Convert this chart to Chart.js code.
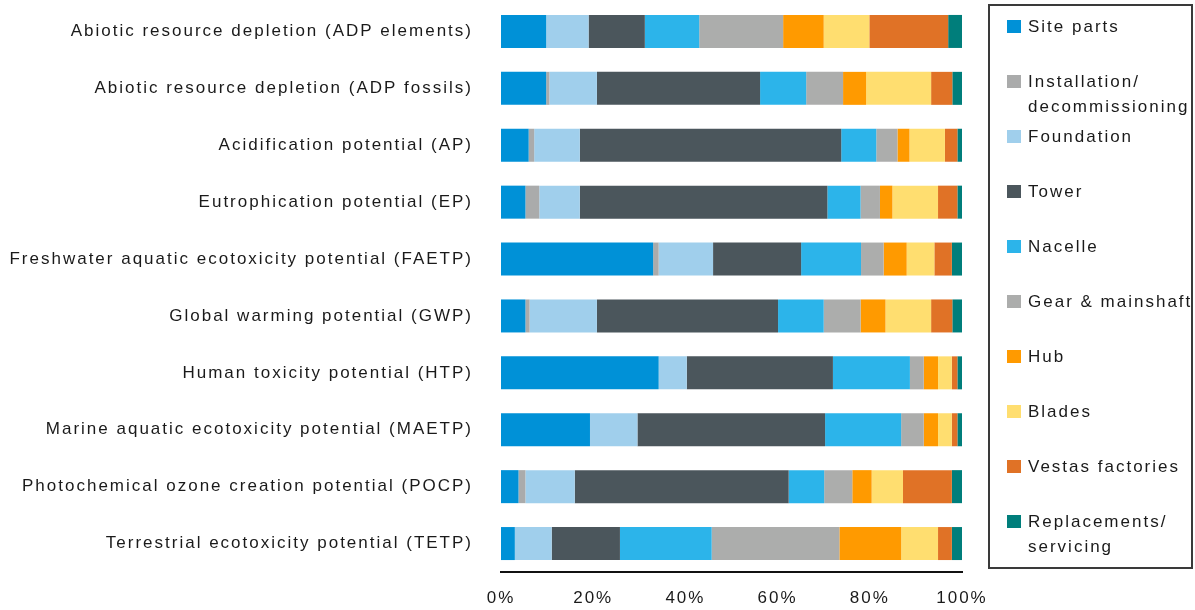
<!DOCTYPE html>
<html>
<head>
<meta charset="utf-8">
<script src="https://cdn.jsdelivr.net/npm/chart.js@4/dist/chart.umd.min.js"></script>
<style>
  html, body { margin: 0; padding: 0; background: #fff; }
  #wrap { position: relative; width: 1195px; height: 610px; }
  #chart { position: absolute; left: 0; top: 0; }
  #legend {
    position: absolute; left: 988px; top: 4px; width: 201px; height: 561px;
    border: 2px solid #3a3a3a; font-family: "Liberation Sans", Arial, sans-serif;
    font-size: 17px; letter-spacing: 2px; color: #1a1a1a;
  }
  .item { position: absolute; left: 17px; line-height: 25px; white-space: nowrap; }
  .sw { position: absolute; left: 0; top: 6px; width: 14px; height: 13px; }
  .txt { margin-left: 21px; }
</style>
</head>
<body>
<div id="wrap">
  <canvas id="chart" width="1195" height="610"></canvas>
  <div id="legend"></div>
</div>
<script>
// Categorias (impactos) e componentes da turbina.
const CATEGORIES = [
  "Abiotic resource depletion (ADP elements)",
  "Abiotic resource depletion (ADP fossils)",
  "Acidification potential (AP)",
  "Eutrophication potential (EP)",
  "Freshwater aquatic ecotoxicity potential (FAETP)",
  "Global warming potential (GWP)",
  "Human toxicity potential (HTP)",
  "Marine aquatic ecotoxicity potential (MAETP)",
  "Photochemical ozone creation potential (POCP)",
  "Terrestrial ecotoxicity potential (TETP)",
];

const SERIES = [
  "Site parts", "Installation/decommissioning", "Foundation", "Tower", "Nacelle",
  "Gear & mainshaft", "Hub", "Blades", "Vestas factories", "Replacements/servicing",
];

const COLORS = [
  "#0091d7", "#aaabab", "#a0cfec", "#4b565c", "#2cb4ea",
  "#acadac", "#ff9a00", "#ffde70", "#e07226", "#007e7b",
];

// Percentagens, uma lista por componente (ordem das categorias).
const SITE_PARTS   = [9.8, 9.8, 6.0, 5.3, 33.0, 5.3, 34.2, 19.3, 3.8, 3.0];
const INSTALLATION = [0, 0.7, 1.2, 3.0, 1.2, 0.9, 0, 0, 1.5, 0];
const FOUNDATION   = [9.2, 10.3, 9.9, 8.8, 11.8, 14.6, 6.1, 10.3, 10.7, 8.0];
const TOWER        = [12.2, 35.4, 56.7, 53.7, 19.1, 39.3, 31.7, 40.7, 46.4, 14.8];
const NACELLE      = [11.8, 10.0, 7.6, 7.2, 13.0, 9.9, 16.7, 16.5, 7.7, 19.9];
const GEAR         = [18.2, 8.0, 4.6, 4.2, 4.9, 8.0, 3.0, 4.9, 6.1, 27.7];
const HUB          = [8.8, 5.0, 2.6, 2.7, 5.0, 5.4, 3.1, 3.1, 4.2, 13.4];
const BLADES       = [9.9, 14.1, 7.7, 9.9, 6.0, 9.9, 3.0, 3.0, 6.8, 8.0];
const VESTAS       = [17.1, 4.6, 2.7, 4.2, 3.8, 4.6, 1.2, 1.2, 10.6, 3.0];
const REPLACEMENTS = [3.0, 2.2, 1.0, 1.0, 2.2, 2.2, 1.1, 1.1, 2.2, 2.2];

const VALUES = [SITE_PARTS, INSTALLATION, FOUNDATION, TOWER, NACELLE,
                GEAR, HUB, BLADES, VESTAS, REPLACEMENTS];

const X_TICKS = [0, 20, 40, 60, 80, 100];

const FONT = { family: "'Liberation Sans', Arial, sans-serif", size: 17 };

// O texto original tem espaçamento largo entre letras.
const spacing = {
  id: "spacing",
  beforeLayout: (chart) => { chart.ctx.letterSpacing = "2px"; },
  beforeDraw: (chart) => { chart.ctx.letterSpacing = "2px"; },
};

const datasets = SERIES.map((name, i) => ({
  label: name,
  data: VALUES[i],
  backgroundColor: COLORS[i],
  borderWidth: 0,
  barPercentage: 0.58,
  categoryPercentage: 1,
}));

new Chart(document.getElementById("chart"), {
  type: "bar",
  data: { labels: CATEGORIES, datasets },
  plugins: [spacing],
  options: {
    responsive: false,
    animation: false,
    indexAxis: "y",
    layout: { padding: { top: 3, right: 233, bottom: 0, left: 0 } },
    plugins: { legend: { display: false }, tooltip: { enabled: false } },
    scales: {
      x: {
        stacked: true,
        min: 0,
        max: 100,
        afterBuildTicks: (s) => { s.ticks = X_TICKS.map((v) => ({ value: v })); },
        afterFit: (s) => { s.height = 38; },
        grid: { display: false, drawTicks: false },
        border: { display: true, color: "#111", width: 2 },
        ticks: { padding: 16, color: "#1a1a1a", font: FONT, callback: (v) => v + "%", maxRotation: 0 },
      },
      y: {
        stacked: true,
        // largura fixa do eixo e sem folga extra em cima/em baixo
        afterFit: (s) => { s.width = 501; s.paddingTop = 0; s.paddingBottom = 0; },
        grid: { display: false, drawTicks: false },
        border: { display: false },
        ticks: { padding: 28, color: "#1a1a1a", font: FONT, autoSkip: false },
      },
    },
  },
});

// Legenda em HTML, caixa à direita.
const legend = document.getElementById("legend");
SERIES.forEach((name, i) => {
  const el = document.createElement("div");
  el.className = "item";
  el.style.top = (8 + 55 * i) + "px";
  el.innerHTML = `<span class="sw" style="background:${COLORS[i]}"></span>` +
    `<div class="txt">${name.replace("&", "&amp;").replace("/", "/<br>")}</div>`;
  legend.appendChild(el);
});
</script>
</body>
</html>
